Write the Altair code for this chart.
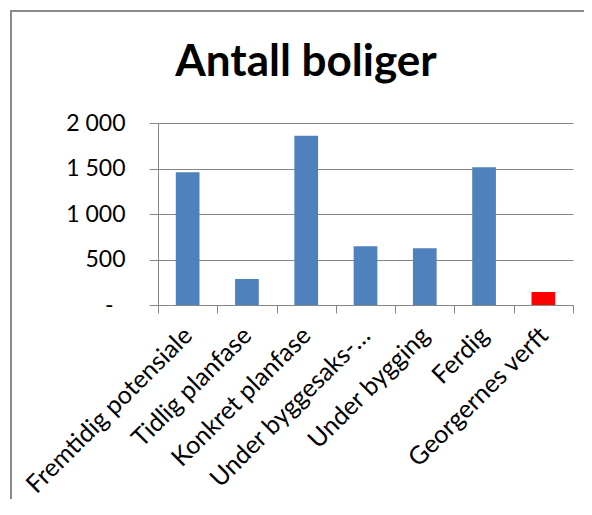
import altair as alt
import pandas as pd

kategorier = [
    "Fremtidig potensiale",
    "Tidlig planfase",
    "Konkret planfase",
    "Under byggesaks-…",
    "Under bygging",
    "Ferdig",
    "Georgernes verft",
]
antall = [1458, 286, 1860, 645, 623, 1513, 143]
y_ticks = [0, 500, 1000, 1500, 2000]
tittel = "Antall boliger"
uthevet = "Georgernes verft"

df = pd.DataFrame({"kategori": kategorier, "antall": antall})

FONT = "Lato"
GRID = "#868686"

x_enc = alt.X(
    "kategori:N",
    sort=kategorier,
    title=None,
    scale=alt.Scale(paddingInner=0, paddingOuter=0),
    axis=alt.Axis(
        tickBand="extent",
        tickSize=8,
        tickColor=GRID,
        domainColor=GRID,
        labelAngle=-45,
        labelAlign="right",
        labelBaseline="middle",
        labelFont=FONT,
        labelFontSize=25,
        labelColor="black",
        labelPadding=18,
        labelLimit=0,
        grid=False,
    ),
)

y_enc = alt.Y(
    "antall:Q",
    title=None,
    scale=alt.Scale(domain=[0, 2000], nice=False),
    axis=alt.Axis(
        values=y_ticks,
        tickSize=9,
        tickColor=GRID,
        domainColor=GRID,
        gridColor=GRID,
        gridOpacity=1,
        labelFont=FONT,
        labelFontSize=23,
        labelColor="black",
        labelPadding={"condition": {"test": "datum.value == 0", "value": 36}, "value": 24},
        labelExpr="datum.value == 0 ? '-' : replace(format(datum.value, ','), ',', ' ')",
    ),
)

bars = alt.Chart(df).mark_bar(width=alt.RelativeBandSize(0.4)).encode(
    x=x_enc,
    y=y_enc,
    color=alt.condition(
        alt.datum.kategori == uthevet, alt.value("#FF0000"), alt.value("#4F81BD")
    ),
)

one = pd.DataFrame({"t": [tittel]})

border_top = alt.Chart(one).mark_rule(stroke="#8a8a8a", strokeWidth=2).encode(
    x=alt.value(-148), x2=alt.value(430), y=alt.value(-112)
)
border_left = alt.Chart(one).mark_rule(stroke="#8a8a8a", strokeWidth=2).encode(
    x=alt.value(-147), y=alt.value(-113), y2=alt.value(400)
)

title_mark = alt.Chart(one).mark_text(
    font=FONT, fontSize=44, fontWeight="bold", align="center", baseline="alphabetic", color="black"
).encode(
    text="t:N", x=alt.value(148), y=alt.value(-47)
)

chart = alt.layer(border_top, border_left, bars, title_mark).properties(
    width=415,
    height=182,
    autosize=alt.AutoSizeParams(type="none"),
    padding={"left": 150, "top": 115, "right": 11, "bottom": 194},
).configure_view(stroke=None)

chart.save("out.html", embed_options={"renderer": "svg", "actions": False})
